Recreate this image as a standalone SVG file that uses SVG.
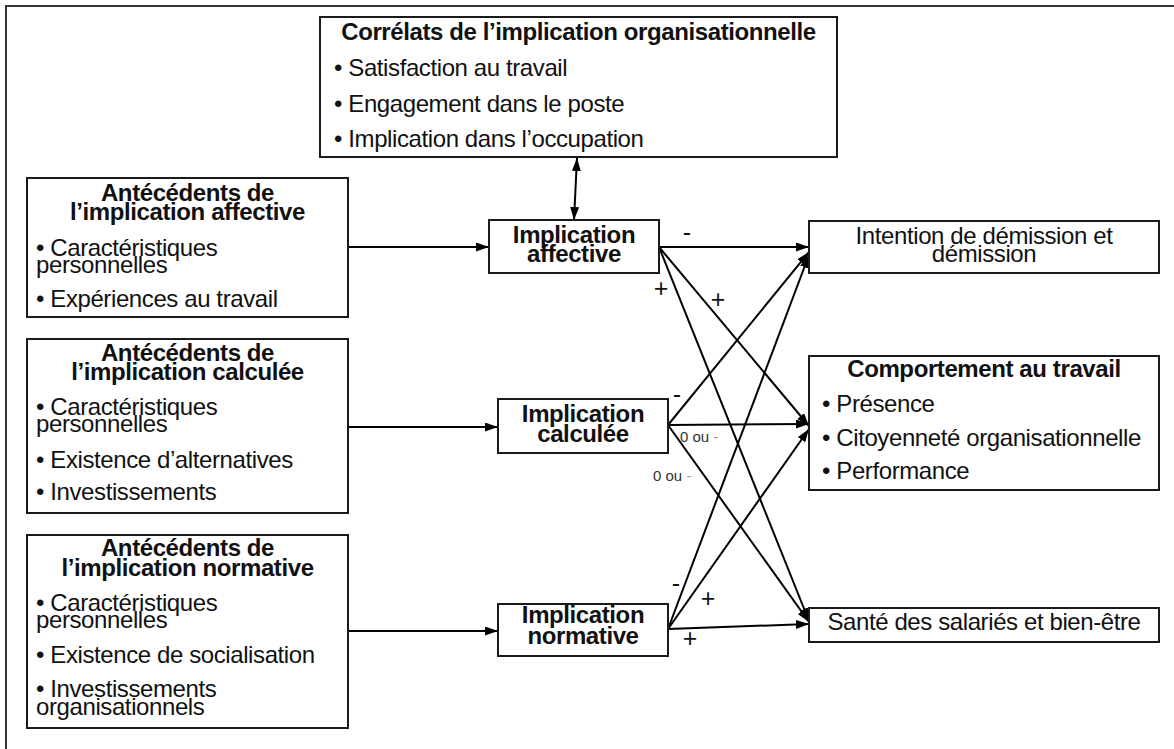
<svg xmlns="http://www.w3.org/2000/svg" width="1174" height="749" viewBox="0 0 1174 749">
<defs>
<marker id="ah" markerUnits="userSpaceOnUse" markerWidth="14" markerHeight="10" refX="13" refY="4.5" orient="auto-start-reverse" viewBox="0 0 14 10">
<path d="M0,0 L13,4.5 L0,9 z" fill="#000"/>
</marker>
<style>
.box{fill:#fff;stroke:#1a1a1a;stroke-width:2}
.t{font-family:"Liberation Sans",Arial,sans-serif;font-size:24px;letter-spacing:-0.4px;fill:#111}
.b{font-weight:bold}
.m{text-anchor:middle}
.c{stroke:#000;stroke-width:2;fill:none}
.a{marker-end:url(#ah)}
.lbl{font-family:"Liberation Sans",Arial,sans-serif;font-size:25px;fill:#111;text-anchor:middle}
.sm{font-family:"Liberation Sans",Arial,sans-serif;font-size:15px;fill:#333}
</style>
</defs>
<rect x="0" y="0" width="1174" height="749" fill="#fff"/>
<rect x="6" y="6" width="1190" height="770" fill="none" stroke="#333" stroke-width="2"/>

<g id="connectors">
<line class="c a" x1="348" y1="247" x2="489" y2="247"/>
<line class="c a" x1="348" y1="427" x2="498" y2="427"/>
<line class="c a" x1="348" y1="631" x2="498" y2="631"/>
<line class="c a" x1="577" y1="158" x2="574" y2="220" marker-start="url(#ah)"/>
<line class="c a" x1="659" y1="247" x2="809" y2="247"/>
<line class="c a" x1="659" y1="247" x2="809" y2="426"/>
<line class="c a" x1="659" y1="247" x2="809" y2="621"/>
<line class="c a" x1="668" y1="425" x2="809" y2="252"/>
<line class="c a" x1="668" y1="425" x2="809" y2="424"/>
<line class="c a" x1="668" y1="425" x2="809" y2="622"/>
<line class="c a" x1="668" y1="629" x2="809" y2="255"/>
<line class="c a" x1="668" y1="629" x2="809" y2="429"/>
<line class="c a" x1="668" y1="629" x2="809" y2="624"/>
<text class="lbl" x="687" y="241">-</text>
<text class="lbl" x="661" y="297">+</text>
<text class="lbl" x="718" y="308">+</text>
<text class="lbl" x="677" y="403">-</text>
<text class="sm" x="680" y="442">0 ou <tspan fill="#999">-</tspan></text>
<text class="sm" x="653" y="481">0 ou <tspan fill="#999">-</tspan></text>
<text class="lbl" x="676" y="592">-</text>
<text class="lbl" x="708" y="607">+</text>
<text class="lbl" x="690" y="647">+</text>
</g>

<g id="correlats">
<rect class="box" x="320" y="17" width="517" height="140"/>
<text class="t b m" x="578.5" y="40">Corrélats de l’implication organisationnelle</text>
<text class="t" x="334" y="76">• Satisfaction au travail</text>
<text class="t" x="334" y="112">• Engagement dans le poste</text>
<text class="t" x="334" y="147">• Implication dans l’occupation</text>
</g>

<g id="ante-affective">
<rect class="box" x="27" y="178" width="321" height="139"/>
<text class="t b m" x="187.5" y="201">Antécédents de</text>
<text class="t b m" x="187.5" y="220">l’implication affective</text>
<text class="t" x="36" y="256">• Caractéristiques</text>
<text class="t" x="36" y="273">personnelles</text>
<text class="t" x="36" y="307">• Expériences au travail</text>
</g>

<g id="ante-calculee">
<rect class="box" x="27" y="339" width="321" height="174"/>
<text class="t b m" x="187.5" y="361">Antécédents de</text>
<text class="t b m" x="187.5" y="380">l’implication calculée</text>
<text class="t" x="36" y="415">• Caractéristiques</text>
<text class="t" x="36" y="432">personnelles</text>
<text class="t" x="36" y="468">• Existence d’alternatives</text>
<text class="t" x="36" y="500">• Investissements</text>
</g>

<g id="ante-normative">
<rect class="box" x="27" y="535" width="321" height="193"/>
<text class="t b m" x="187.5" y="556">Antécédents de</text>
<text class="t b m" x="187.5" y="576">l’implication normative</text>
<text class="t" x="36" y="611">• Caractéristiques</text>
<text class="t" x="36" y="628">personnelles</text>
<text class="t" x="36" y="663">• Existence de socialisation</text>
<text class="t" x="36" y="697">• Investissements</text>
<text class="t" x="36" y="715">organisationnels</text>
</g>

<g id="impl-affective">
<rect class="box" x="489" y="220" width="170" height="53"/>
<text class="t b m" x="574" y="243">Implication</text>
<text class="t b m" x="574" y="262">affective</text>
</g>

<g id="impl-calculee">
<rect class="box" x="498" y="399" width="170" height="54"/>
<text class="t b m" x="583" y="422">Implication</text>
<text class="t b m" x="583" y="442">calculée</text>
</g>

<g id="impl-normative">
<rect class="box" x="498" y="604" width="170" height="52"/>
<text class="t b m" x="583" y="623">Implication</text>
<text class="t b m" x="583" y="644">normative</text>
</g>

<g id="intention">
<rect class="box" x="809" y="221" width="350" height="52"/>
<text class="t m" x="984" y="244">Intention de démission et</text>
<text class="t m" x="984" y="262">démission</text>
</g>

<g id="comportement">
<rect class="box" x="809" y="356" width="350" height="134"/>
<text class="t b m" x="984" y="377">Comportement au travail</text>
<text class="t" x="822" y="412">• Présence</text>
<text class="t" x="822" y="446">• Citoyenneté organisationnelle</text>
<text class="t" x="822" y="479">• Performance</text>
</g>

<g id="sante">
<rect class="box" x="809" y="608" width="350" height="34"/>
<text class="t m" x="984" y="630">Santé des salariés et bien-être</text>
</g>
</svg>
